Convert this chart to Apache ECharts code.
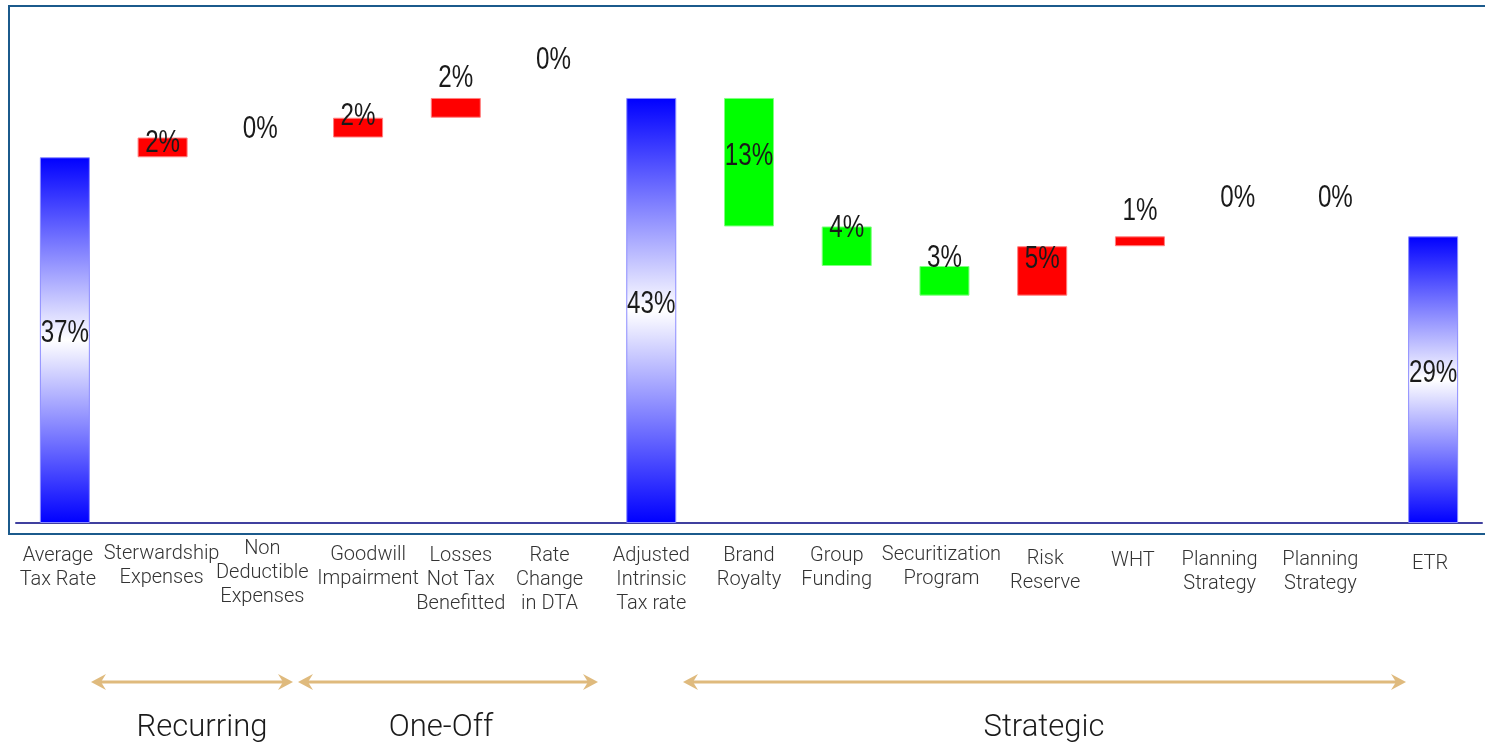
<!DOCTYPE html>
<html>
<head>
<meta charset="utf-8">
<script src="https://cdn.jsdelivr.net/npm/echarts@6/dist/echarts.min.js"></script>
<style>
html,body{margin:0;padding:0;background:#fff;}
#chart{width:1485px;height:747px;}
</style>
</head>
<body>
<div id="chart"></div>
<script>
// ---- data ----
const categories = [
  'Average\nTax Rate', 'Sterwardship\nExpenses', 'Non\nDeductible\nExpenses',
  'Goodwill\nImpairment', 'Losses\nNot Tax\nBenefitted', 'Rate\nChange\nin DTA',
  'Adjusted\nIntrinsic\nTax rate', 'Brand\nRoyalty', 'Group\nFunding',
  'Securitization\nProgram', 'Risk\nReserve', 'WHT',
  'Planning\nStrategy', 'Planning\nStrategy', 'ETR'
];
const values = [37, 2, 0, 2, 2, 0, 43, 13, 4, 3, 5, 1, 0, 0, 29];
const kinds  = ['total','up','up','up','up','up','total','down','down','down','up','up','up','up','total'];
const groupNames = ['Recurring', 'One-Off', 'Strategic'];

// ---- layout / style (not data) ----
const labelAnchor = ['mid','top','top','top','top','top','mid','mid','top','top','top','top','top','top','mid'];
const labelDy     = [-7, 6, -8, -1, -20, -38, -6, -6, 2, -8, 13, -25, -38, -38, -6];
const catPadTop   = [7, 5, 0, 6, 7, 7, 7, 7, 7, 6, 10, 12, 11, 11, 15];
const catDx       = [-7, -1, 2, 10, 5, -4, 0, 0, -10, -3, 3, -7, -18, -15, -3];

// ---- waterfall computation ----
const base = [], delta = [];
let cum = 0;
values.forEach((v, i) => {
  const k = kinds[i];
  if (k === 'total') { base.push(0); delta.push(v); cum = v; }
  else if (k === 'up') { base.push(cum); delta.push(v); cum += v; }
  else { cum -= v; base.push(cum); delta.push(v); }
});

const blueGrad = new echarts.graphic.LinearGradient(0, 0, 0, 1, [
  {offset: 0, color: '#0000ff'},
  {offset: 0.5, color: '#ffffff'},
  {offset: 1, color: '#0000ff'}
]);
function styleFor(k, v) {
  if (k === 'total') return {color: blueGrad, borderColor: '#8c8cff', borderWidth: 1};
  if (k === 'up') return {color: '#ff0000', borderColor: '#ff8080', borderWidth: v ? 1 : 0};
  return {color: '#00ff00', borderColor: '#80ff80', borderWidth: v ? 1 : 0};
}

const labelData = values.map((v, i) => [
  i,
  labelAnchor[i] === 'mid' ? base[i] + delta[i] / 2 : base[i] + delta[i],
  i
]);

// annotation arrows
const arrowColor = '#dfba7d';
function arrow(x1, x2, y) {
  return [
    {type: 'line', shape: {x1: x1 + 6, y1: y, x2: x2 - 6, y2: y}, style: {stroke: arrowColor, lineWidth: 3}},
    {type: 'polygon', shape: {points: [[x1, y], [x1 + 15, y - 8], [x1 + 10, y], [x1 + 15, y + 8]]}, style: {fill: arrowColor}},
    {type: 'polygon', shape: {points: [[x2, y], [x2 - 15, y - 8], [x2 - 10, y], [x2 - 15, y + 8]]}, style: {fill: arrowColor}}
  ];
}
const spans = [[91, 293, 202], [298, 598, 441], [683, 1406, 1044]];
let graphics = [
  {type: 'rect', z: 100,
   shape: {x: 9, y: 6, width: 1500, height: 528},
   style: {fill: 'none', stroke: '#1b5a8c', lineWidth: 2}}
];
spans.forEach((s, i) => {
  graphics = graphics.concat(arrow(s[0], s[1], 682));
  graphics.push({type: 'text', x: s[2], y: 728,
    style: {text: groupNames[i], fill: '#1a1a1a', font: "300 31px Roboto, sans-serif", align: 'center', verticalAlign: 'middle'}});
});
graphics = graphics.map(e => Object.assign({silent: true}, e));

const chart = echarts.init(document.getElementById('chart'));
chart.setOption({
  animation: false,
  grid: {left: 16, right: 3, top: 9, bottom: 224, containLabel: false},
  xAxis: {
    type: 'category',
    data: categories.map((c, i) => ({
      value: c,
      textStyle: {padding: [catPadTop[i], catDx[i] < 0 ? -2 * catDx[i] : 0, 0, catDx[i] > 0 ? 2 * catDx[i] : 0]}
    })),
    axisTick: {show: false},
    axisLine: {show: true, lineStyle: {color: '#40409f', width: 2}},
    axisLabel: {
      interval: 0,
      color: '#333',
      fontFamily: 'Roboto, sans-serif',
      fontWeight: 300,
      fontSize: 20,
      lineHeight: 24,
      margin: 14,
      verticalAlign: 'top'
    }
  },
  yAxis: {type: 'value', min: 0, max: 52, show: false, splitLine: {show: false}},
  series: [
    {
      type: 'bar', stack: 'w', silent: true, barWidth: 50,
      itemStyle: {color: 'rgba(0,0,0,0)'},
      data: base
    },
    {
      type: 'bar', stack: 'w', barWidth: 50, silent: true,
      data: delta.map((d, i) => ({value: d, itemStyle: styleFor(kinds[i], values[i])}))
    },
    {
      type: 'custom', silent: true, z: 10,
      data: labelData,
      renderItem: function (params, api) {
        const i = api.value(2);
        const p = api.coord([api.value(0), api.value(1)]);
        return {
          type: 'text',
          x: p[0], y: p[1] + labelDy[i],
          scaleX: 0.78,
          style: {
            text: values[i] + '%',
            fill: '#1a1a1a',
            font: "31px 'Liberation Sans', Arial, sans-serif",
            align: 'center',
            verticalAlign: 'middle'
          }
        };
      }
    }
  ],
  graphic: graphics
});
</script>
</body>
</html>
